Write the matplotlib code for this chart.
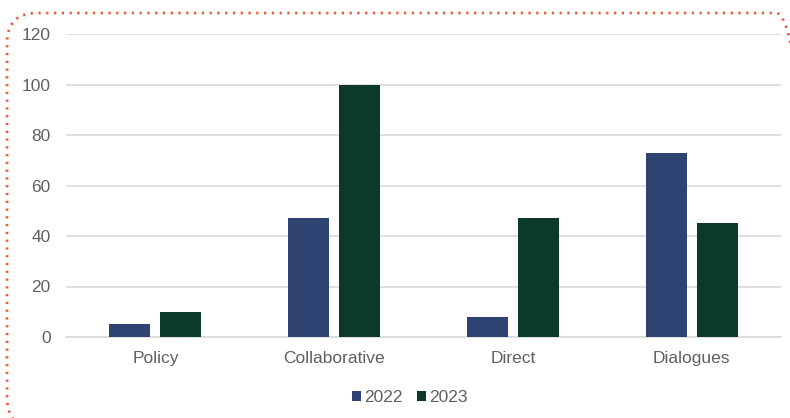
import matplotlib
matplotlib.use("Agg")
import matplotlib.pyplot as plt
import numpy as np
from matplotlib.patches import FancyBboxPatch
from matplotlib.transforms import Affine2D

categories = ["Policy", "Collaborative", "Direct", "Dialogues"]
series_names = ["2022", "2023"]
values_2022 = [5, 47, 8, 73]
values_2023 = [10, 100, 47, 45]
yticks = [0, 20, 40, 60, 80, 100, 120]

colors = ["#2E4372", "#0B3A2B"]

plt.rcParams['font.family'] = ['Liberation Sans', 'DejaVu Sans']

W, H = 790, 418
fig = plt.figure(figsize=(W/100, H/100), dpi=100)
ax = fig.add_axes([66/W, 81/H, (781-66)/W, (337-34)/H])

x = np.arange(len(categories))
bw = 0.23
off = 0.143
ax.bar(x - off, values_2022, width=bw, color=colors[0], label=series_names[0], zorder=3)
ax.bar(x + off, values_2023, width=bw, color=colors[1], label=series_names[1], zorder=3)

ax.set_xlim(-0.5, len(categories) - 0.5)
ax.set_ylim(0, 120)
ax.set_yticks(yticks)
ax.set_yticklabels([str(v) for v in yticks])
ax.set_xticks(x)
ax.set_xticklabels(categories)
ax.yaxis.grid(True, color="#D9D9D9", linewidth=1.2, zorder=0)
ax.set_axisbelow(True)
for s in ["top", "right", "left"]:
    ax.spines[s].set_visible(False)
ax.spines["bottom"].set_color("#D9D9D9")
ax.spines["bottom"].set_linewidth(1.2)
ax.tick_params(axis="both", length=0, labelsize=12.5, colors="#606060")
ax.tick_params(axis="y", pad=11)
ax.tick_params(axis="x", pad=10)

leg = fig.legend(loc="center", bbox_to_anchor=(410/W, 1 - 398/H), ncol=2, frameon=False,
                 fontsize=12.5, handlelength=0.5, handleheight=0.5, handletextpad=0.2,
                 columnspacing=0.8, labelcolor="#606060")

pix = Affine2D().scale(1/W, 1/H) + fig.transFigure
x0, y0top, x1, y1top = 7, 13, 806, 428
border = FancyBboxPatch((x0, H - y1top), x1 - x0, y1top - y0top,
                        boxstyle="round,pad=0,rounding_size=30",
                        transform=pix, fill=False, edgecolor="#EE5A3E",
                        linewidth=2.0, linestyle=(0, (0.8, 2.0)), clip_on=False)
fig.patches.append(border)

fig.savefig("out.png", dpi=100, facecolor="white")
